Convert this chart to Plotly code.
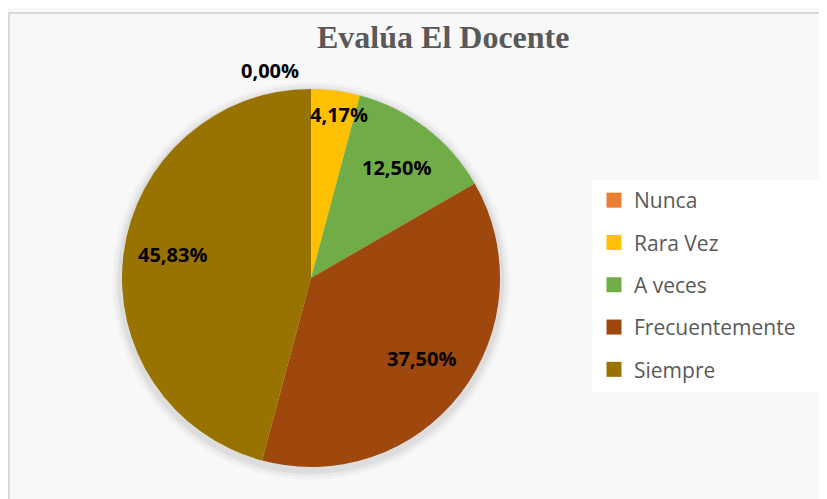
import math
import plotly.graph_objects as go

# ---- data ----
categories = ["Nunca", "Rara Vez", "A veces", "Frecuentemente", "Siempre"]
values = [0.00, 4.17, 12.50, 37.50, 45.83]
colors = ["#ED7D31", "#FFC000", "#70AD47", "#9E480E", "#997300"]
title_text = "Evalúa El Docente"

W, H = 827, 499
OFF = 8  # page body margin: figure pixel = page pixel - OFF


def px2x(p):
    return (p - OFF) / W


def px2y(p):
    return 1 - (p - OFF) / H


CX, CY, R = 311, 278, 189  # pie centre / radius in page pixels

fig = go.Figure()

# soft shadow layers behind the pie
for i, (grow, alpha) in enumerate([(10, 0.025), (7, 0.035), (4, 0.05)]):
    rr = R + grow
    cy_s = CY + 3
    fig.add_trace(go.Pie(
        values=[1], labels=["s%d" % i], marker=dict(colors=["rgba(0,0,0,%s)" % alpha], line=dict(width=0)),
        textinfo="none", hoverinfo="skip", showlegend=False, sort=False,
        domain=dict(x=[px2x(CX - rr), px2x(CX + rr)], y=[px2y(cy_s + rr), px2y(cy_s - rr)]),
    ))

fig.add_trace(go.Pie(
    labels=categories, values=values, sort=False, direction="clockwise", rotation=0,
    marker=dict(colors=colors, line=dict(width=0)),
    textinfo="none", hoverinfo="label+percent", showlegend=False,
    domain=dict(x=[px2x(CX - R), px2x(CX + R)], y=[px2y(CY + R), px2y(CY - R)]),
))

# legend entries (square markers) with spacing
for cat, col in zip(categories, colors):
    fig.add_trace(go.Scatter(
        x=[None], y=[None], mode="markers", name=cat, legendgroup=cat,
        marker=dict(symbol="square", size=15, color=col),
        showlegend=True, hoverinfo="skip",
    ))

# data labels computed from the slice angles
total = sum(values)
cum = 0.0
annotations = []
for v in values:
    share = v / total
    mid = (cum + share / 2) * 2 * math.pi
    cum += share
    label = ("%.2f" % (share * 100)).replace(".", ",") + "%"
    xshift = 0
    yshift = 0
    if share == 0:
        frac = 1.1
        xshift = -41
    elif share < 0.1:
        frac = 0.87
        xshift = 7
    else:
        frac = 0.74
        yshift = 5 if share > 0.3 else 0
    px = CX + R * frac * math.sin(mid)
    py = CY - R * frac * math.cos(mid)
    annotations.append(dict(
        x=px2x(px), y=px2y(py), xref="paper", yref="paper", text="<b>%s</b>" % label,
        showarrow=False, xshift=xshift, yshift=yshift,
        font=dict(family="Open Sans", size=20, color="#000000"),
        xanchor="center", yanchor="middle",
    ))

annotations.append(dict(
    x=px2x(442.5), y=px2y(37), xref="paper", yref="paper", text="<b>%s</b>" % title_text,
    showarrow=False, font=dict(family="Liberation Serif", size=32, color="#595959"),
    xanchor="center", yanchor="middle",
))

fig.update_layout(
    width=W, height=H, margin=dict(l=0, r=0, t=0, b=0),
    paper_bgcolor="#f8f8f8", plot_bgcolor="rgba(0,0,0,0)",
    xaxis=dict(visible=False), yaxis=dict(visible=False),
    annotations=annotations,
    shapes=[
        dict(type="rect", xref="paper", yref="paper", x0=1 / W, x1=1.05, y0=-0.05, y1=px2y(13),
             line=dict(color="#d9d9d9", width=2), fillcolor="rgba(0,0,0,0)", layer="below"),
        dict(type="rect", xref="paper", yref="paper", x0=px2x(592), x1=px2x(822), y0=px2y(392), y1=px2y(180),
             line=dict(width=0), fillcolor="#ffffff", layer="below"),
    ],
    legend=dict(
        x=px2x(594), y=px2y(180), xanchor="left", yanchor="top",
        bgcolor="rgba(0,0,0,0)", tracegroupgap=12,
        font=dict(family="Open Sans", size=21, color="#595959"),
    ),
)

fig.write_html("out.html")
